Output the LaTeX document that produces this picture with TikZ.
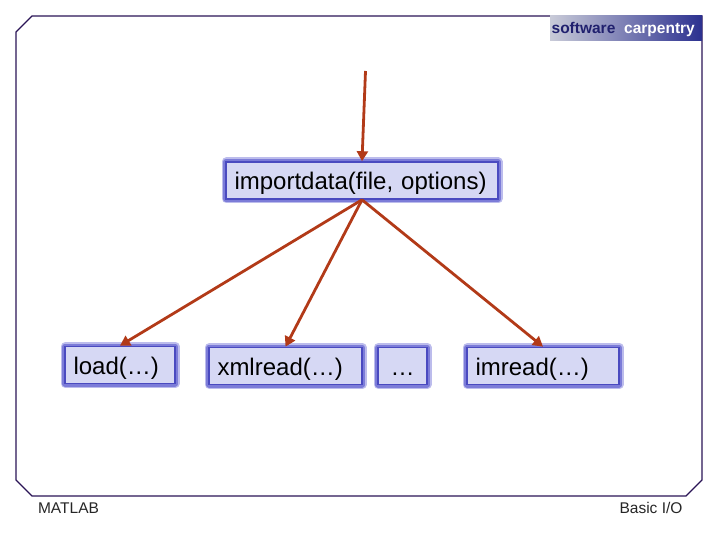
\documentclass[tikz,border=0pt]{standalone}
\usepackage{fontspec}
\setmainfont{Liberation Sans}
\usetikzlibrary{arrows.meta}
\definecolor{frameColor}{HTML}{2A1456}
\definecolor{boxEdge}{HTML}{4A4AC0}
\definecolor{boxGlow}{HTML}{7C7CD8}
\definecolor{boxHalo}{HTML}{BCBCEC}
\definecolor{boxFill}{HTML}{D6D8F4}
\definecolor{arrowColor}{HTML}{B23A18}
\definecolor{logoLeft}{HTML}{C9CBD8}
\definecolor{logoMiddle}{HTML}{8C90C0}
\definecolor{logoRight}{HTML}{2C3190}
\definecolor{logoText}{HTML}{20206E}
\def\boxHeight{37pt}
\def\boxSep{8.5pt}
\tikzset{
  x=1pt,
  y=-1pt,
  boxNode/.style={
    draw=boxEdge,
    line width=1.6pt,
    fill=boxFill,
    text width=#1-2*\boxSep,
    minimum height=\boxHeight,
    inner xsep=\boxSep,
    inner ysep=0pt,
    text height=20.5pt,
    text depth=2pt,
    font=\fontsize{24}{26}\selectfont,
    preaction={draw=boxHalo,line width=9pt,line join=round},
    preaction={draw=boxGlow,line width=6pt,line join=round},
    align=left
  },
  footNode/.style={font=\fontsize{15.5}{18}\selectfont,text=black!85,text height=11pt,text depth=3pt},
  logoNode/.style={font=\fontsize{15.5}{16}\bfseries\selectfont,inner sep=0pt,text height=11pt,text depth=3pt},
  flowArrow/.style={
    draw=arrowColor,
    line width=2.8pt,
    -{Triangle[length=10pt,width=11pt]}
  }
}
\begin{document}
\begin{tikzpicture}
    \useasboundingbox (0,0) rectangle (720,540);
    \draw[frameColor,line width=1.1pt] (702,16) -- (32,16) -- (16,32) -- (16,480)
      -- (32,496) -- (686,496) -- (702,480) -- cycle;

    % logo
    \node[left color=logoLeft,middle color=logoMiddle,right color=logoRight,minimum width=152pt,minimum height=25pt,inner sep=0pt] (logoBox) at (626,28.5) {};
    \node[logoNode,text=logoText] (logoSoftware) at (583.5,29.5) {software};
    \node[logoNode,text=white] (logoCarpentry) at (659.5,29.5) {carpentry};

    % boxes
    \node[boxNode=272pt] (importBox) at (362,180.5) {importdata(file, options)};
    \node[boxNode=110pt] (loadBox) at (120,365) {load(…)};
    \node[boxNode=153pt] (xmlBox) at (285.5,366) {xmlread(…)};
    \node[boxNode=49pt,align=center] (dotsBox) at (402.5,366) {…};
    \node[boxNode=152pt] (imBox) at (543,366) {imread(…)};

    % arrows
    \coordinate (topStart) at (365.5,71);
    \draw[flowArrow] (topStart) -- (importBox.north);
    \draw[flowArrow] (importBox.south) -- (loadBox.north);
    \draw[flowArrow] (importBox.south) -- (xmlBox.north);
    \draw[flowArrow] (importBox.south) -- (imBox.north);

    % footer
    \node[footNode] (footLeft) at (68.5,509.5) {MATLAB};
    \node[footNode] (footRight) at (651,509.5) {Basic I/O};
\end{tikzpicture}
\end{document}
